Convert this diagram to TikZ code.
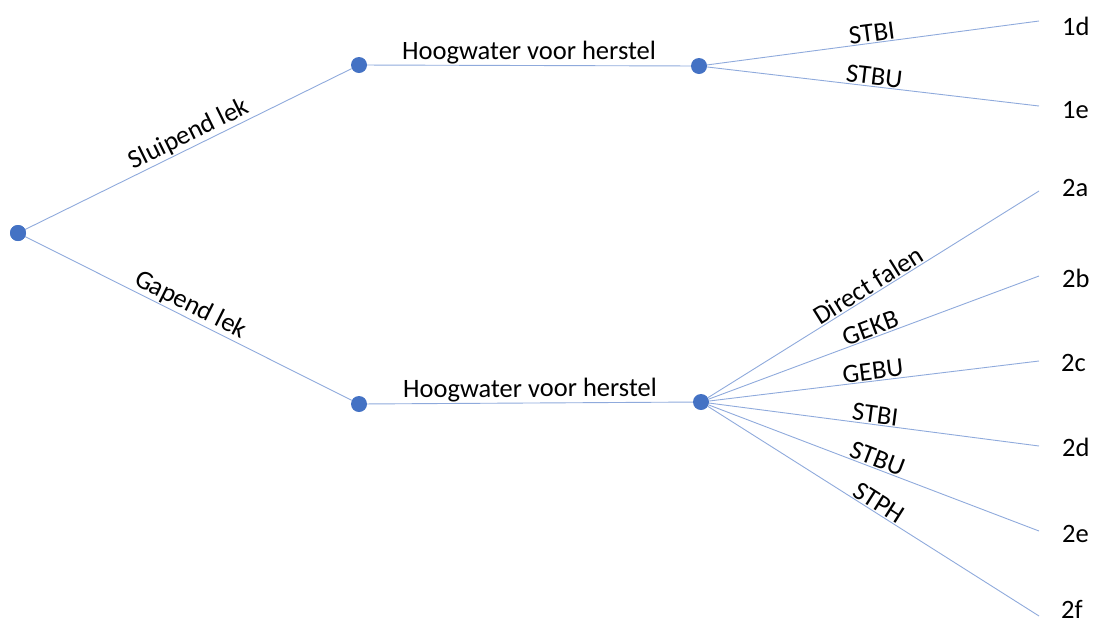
\documentclass[tikz,border=0pt]{standalone}
\usepackage{fontspec}
\setmainfont{Carlito}
\begin{document}
\begin{tikzpicture}[x=1pt,y=-1pt,
  dot/.style={circle,fill=dotblue,inner sep=0pt,minimum size=16pt},
  branch/.style={draw=lineblue,line width=0.9pt},
  lbl/.style={midway,sloped,above,inner sep=1pt,font=\fontsize{26.5}{30}\selectfont},
  endlbl/.style={anchor=west,inner sep=0pt,font=\fontsize{26.5}{30}\selectfont}]
\definecolor{dotblue}{HTML}{4472C4}
\definecolor{lineblue}{HTML}{8FAADC}
\useasboundingbox (0,0) rectangle (1093,625);
\node[dot] (root) at (18,233) {};
\node[dot] (um) at (359,65) {};
\node[dot] (lm) at (359,404) {};
\node[dot] (ur) at (699,66) {};
\node[dot] (lr) at (701,402) {};
\coordinate (e1d) at (1039,21);
\coordinate (e1e) at (1039,106);
\coordinate (e2a) at (1039,191);
\coordinate (e2b) at (1039,276);
\coordinate (e2c) at (1039,361);
\coordinate (e2d) at (1039,446);
\coordinate (e2e) at (1039,531);
\coordinate (e2f) at (1039,616);
\path[branch] (root.center) -- (um) node[lbl,pos=0.53]{Sluipend lek};
\path[branch] (root.center) -- (lm) node[lbl]{Gapend lek};
\path[branch] (um) -- (ur) node[lbl]{Hoogwater voor herstel};
\path[branch] (lm) -- (lr) node[lbl]{Hoogwater voor herstel};
\path[branch] (ur) -- (e1d) node[lbl]{STBI};
\path[branch] (ur) -- (e1e) node[lbl]{STBU};
\path[branch] (lr) -- (e2a) node[lbl]{Direct falen};
\path[branch] (lr) -- (e2b) node[lbl]{GEKB};
\path[branch] (lr) -- (e2c) node[lbl]{GEBU};
\path[branch] (lr) -- (e2d) node[lbl]{STBI};
\path[branch] (lr) -- (e2e) node[lbl]{STBU};
\path[branch] (lr) -- (e2f) node[lbl]{STPH};
\node[dot] at (root) {};
\node[endlbl] (l1d) at (1062,26) {1d};
\node[endlbl] (l1e) at (1062,110) {1e};
\node[endlbl] (l2a) at (1062,188) {2a};
\node[endlbl] (l2b) at (1062,278) {2b};
\node[endlbl] (l2c) at (1061,363) {2c};
\node[endlbl] (l2d) at (1062,447) {2d};
\node[endlbl] (l2e) at (1062,534) {2e};
\node[endlbl] (l2f) at (1061,609) {2f};
\end{tikzpicture}
\end{document}
